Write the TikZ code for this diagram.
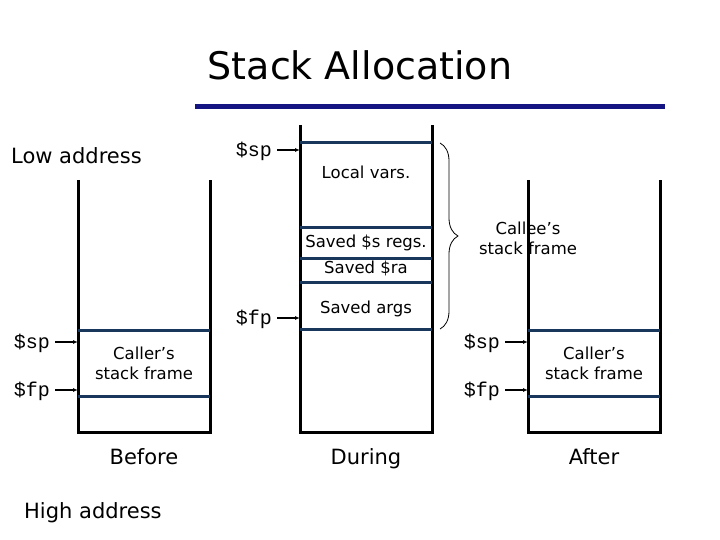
\documentclass[tikz,border=0pt]{standalone}
\usepackage{fontspec}
\setmainfont{DejaVu Sans}
\newfontfamily\mono{Liberation Mono}
\usetikzlibrary{decorations.pathreplacing,arrows.meta}
\definecolor{navy}{RGB}{20,20,130}
\definecolor{slot}{RGB}{25,55,90}
\begin{document}
\begin{tikzpicture}[x=1pt,y=-1pt,
  wall/.style={line width=3pt,black},
  slotl/.style={line width=3pt,slot},
  reg/.style={font=\mono\fontsize{20}{21}\selectfont,anchor=east,inner sep=0pt},
  ptr/.style={-{Latex[length=5pt,width=4pt]},line width=1.2pt},
  lbl/.style={font=\fontsize{16.5}{20}\selectfont,align=center,inner sep=0pt},
  big/.style={font=\fontsize{21}{23}\selectfont,inner sep=0pt,anchor=base}]
\useasboundingbox (0,0) rectangle (720,540);
\node[font=\fontsize{38}{40}\selectfont] (title) at (360,65) {Stack Allocation};
\draw[navy,line width=5pt] (195,107) -- (665,107);
\node[big,anchor=base west] (low) at (11,164) {Low address};
\node[big,anchor=base west] (high) at (24,518) {High address};
% left column
\draw[wall] (78,180) -- (78,432) -- (210,432) -- (210,180);
\draw[slotl] (78,330) -- (210,330);
\draw[slotl] (78,396) -- (210,396);
\node[lbl] (callerL) at (144,363) {Caller’s\\stack frame};
\coordinate (lsp) at (78,342); \coordinate (lfp) at (78,390);
\node[reg] (lspt) at (50,343) {\$sp};
\node[reg] (lfpt) at (50,391) {\$fp};
\draw[ptr] (lspt.east) ++(5,-1) -- (lsp);
\draw[ptr] (lfpt.east) ++(5,-1) -- (lfp);
\node[big] (before) at (144,464) {Before};
% middle column
\draw[wall] (300,125) -- (300,432) -- (432,432) -- (432,125);
\foreach \y in {143,228,258,282,329} \draw[slotl] (300,\y) -- (432,\y);
\node[lbl] (local) at (366,172) {Local vars.};
\node[lbl] (saveds) at (366,243) {Saved \$s regs.};
\node[lbl] (savedra) at (366,268) {Saved \$ra};
\node[lbl] (savedargs) at (366,309) {Saved args};
\coordinate (msp) at (300,150); \coordinate (mfp) at (300,318);
\node[reg] (mspt) at (272,151) {\$sp};
\node[reg] (mfpt) at (272,319) {\$fp};
\draw[ptr] (mspt.east) ++(5,-1) -- (msp);
\draw[ptr] (mfpt.east) ++(5,-1) -- (mfp);
\coordinate (bt) at (440,143); \coordinate (bb) at (440,329);
\draw[decorate,decoration={brace,amplitude=18pt,aspect=0.5},line width=0.8pt] (bt) -- (bb);
\node[lbl] (callee) at (528,238) {Callee’s\\stack frame};
\node[big] (during) at (366,464) {During};
% right column
\draw[wall] (528,180) -- (528,432) -- (660,432) -- (660,180);
\draw[slotl] (528,330) -- (660,330);
\draw[slotl] (528,396) -- (660,396);
\node[lbl] (callerR) at (594,363) {Caller’s\\stack frame};
\coordinate (rsp) at (528,342); \coordinate (rfp) at (528,390);
\node[reg] (rspt) at (500,343) {\$sp};
\node[reg] (rfpt) at (500,391) {\$fp};
\draw[ptr] (rspt.east) ++(5,-1) -- (rsp);
\draw[ptr] (rfpt.east) ++(5,-1) -- (rfp);
\node[big] (after) at (594,464) {After};
\end{tikzpicture}
\end{document}
